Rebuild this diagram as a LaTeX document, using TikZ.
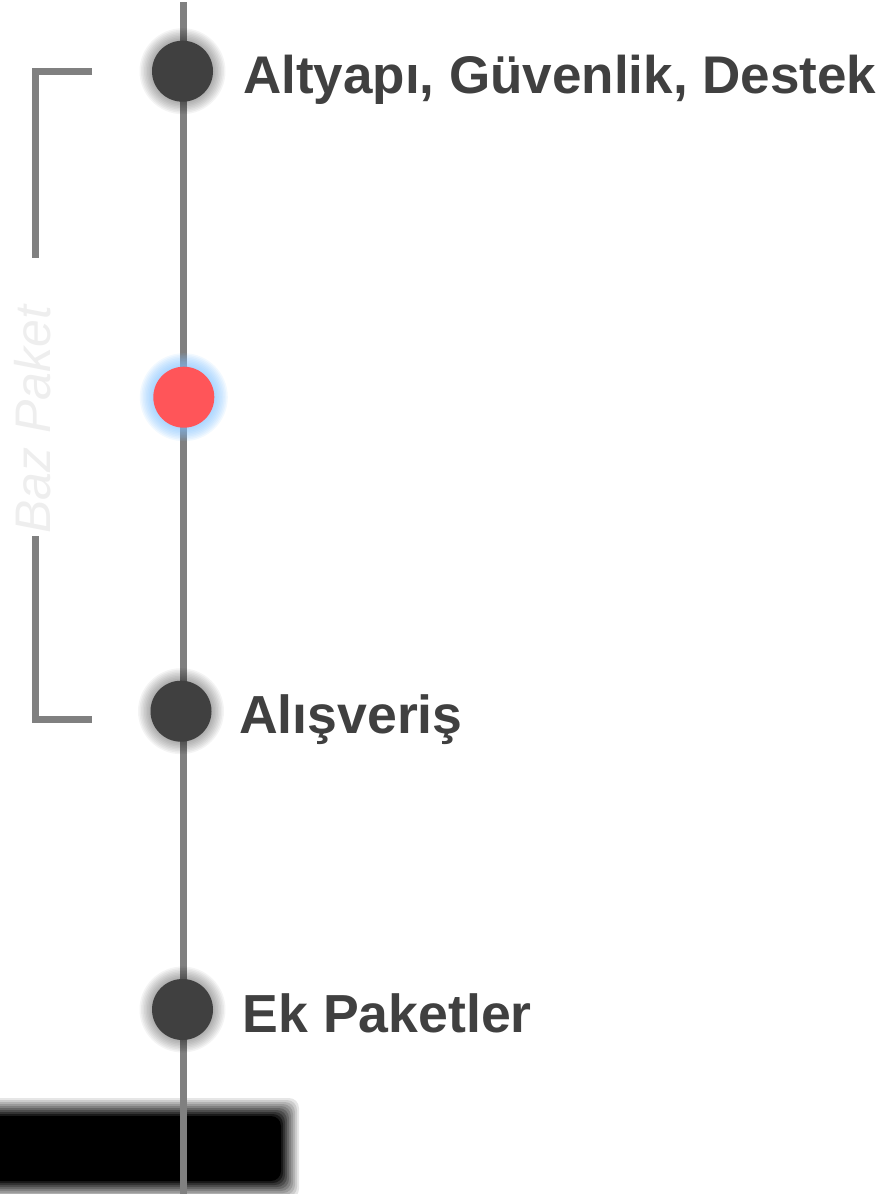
\documentclass[tikz,border=0pt]{standalone}
\usepackage{fontspec}
\setmainfont{Liberation Sans}
\definecolor{railgray}{HTML}{808080}
\definecolor{dotdark}{HTML}{404040}
\definecolor{hotred}{HTML}{FF5559}
\definecolor{glowblue}{HTML}{7FC0FF}
\definecolor{tagpale}{HTML}{EEEEEE}
\begin{document}
\begin{tikzpicture}[x=1pt,y=-1pt,
  rail/.style={draw=railgray, line width=7pt},
  bracketline/.style={draw=railgray, line width=7pt, line join=miter},
  dot/.style={circle, inner sep=0pt, minimum size=61pt, fill=dotdark},
  hotdot/.style={dot, fill=hotred},
  itemtext/.style={anchor=base west, inner sep=0pt, text=dotdark,
    font=\bfseries\fontsize{53.6}{60}\selectfont},
  tagtext/.style={anchor=base west, inner sep=0pt, text=tagpale, rotate=90,
    font=\itshape\fontsize{50}{56}\selectfont}]
\useasboundingbox (0,0) rectangle (891,1194);

% blurred black bar at the foot, built from stacked translucent layers
\foreach \k in {1,...,10}{
  \pgfmathsetmacro{\off}{11-2*\k}
  \pgfmathsetmacro{\op}{1/(11-\k)}
  \fill[black, opacity=\op, rounded corners=10pt]
    (-40-\off,1107-\off) rectangle (290+\off,1190+\off);
}

% timeline rail
\coordinate (railtop) at (183,2);
\coordinate (railbot) at (183,1194);
\draw[rail] (railtop) -- (railbot);

% positions of the stops
\coordinate (p1) at (182.5,71.2);
\coordinate (p2) at (183.8,397.2);
\coordinate (p3) at (181,711.2);
\coordinate (p4) at (182.5,1009.5);

% soft shadows and glow
\foreach \p in {p1,p3,p4}{
  \foreach \r in {43,41.5,...,31}{
    \fill[black, opacity=0.045] (\p) circle (\r pt);
  }
}
\foreach \r in {44,42.5,...,31}{
  \fill[glowblue, opacity=0.1] (p2) circle (\r pt);
}

% stops
\node[dot] (s1) at (p1) {};
\node[hotdot] (s2) at (p2) {};
\node[dot] (s3) at (p3) {};
\node[dot] (s4) at (p4) {};

% labels
\node[itemtext, font=\bfseries\fontsize{53}{60}\selectfont] (t1) at (243,93.3) {Altyapı, Güvenlik, Destek};
\node[itemtext] (t3) at (239,733) {Alışveriş};
\node[itemtext] (t4) at (242.5,1032.5) {Ek Paketler};

% bracket grouping the base package
\draw[bracketline] (92,71.5) -- (35.5,71.5) -- (35.5,258);
\draw[bracketline] (35.5,536) -- (35.5,719.5) -- (92,719.5);
\node[tagtext] (tag) at (50,534) {Baz Paket};
\end{tikzpicture}
\end{document}
